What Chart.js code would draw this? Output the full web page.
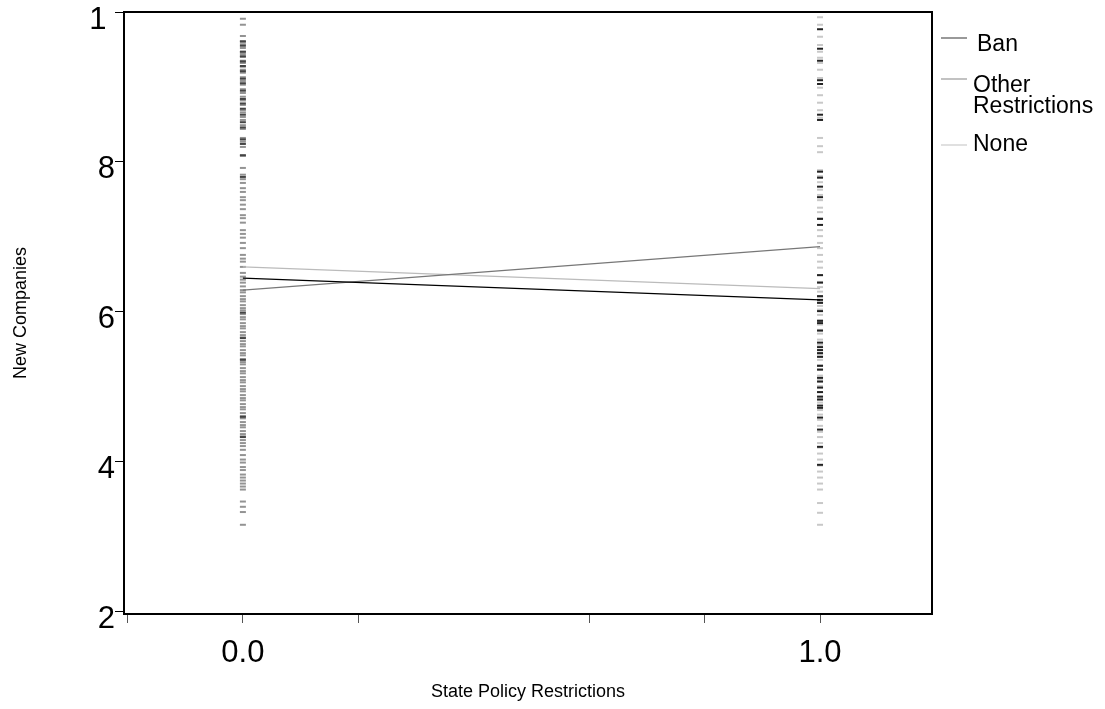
<!DOCTYPE html>
<html>
<head>
<meta charset="utf-8">
<script src="https://cdn.jsdelivr.net/npm/chart.js@4/dist/chart.umd.min.js"></script>
<style>
  html, body { margin: 0; padding: 0; background: #fff; }
  #wrap { width: 1105px; height: 709px; position: relative; }
</style>
</head>
<body>
<div id="wrap"><canvas id="chart" width="1105" height="709"></canvas></div>
<script>
// group names (legend) and the x positions of the policy groups
const groups = ['Ban', 'Other Restrictions', 'None'];
const xPositions = [0, 1];

// fitted lines: mean new companies at x = 0 and x = 1
const banLine = [6.45, 6.16];
const otherLine = [6.29, 6.87];
const noneLine = [6.60, 6.31];

const banAt0 = [9.61, 9.55, 9.47, 9.41, 9.34, 9.28, 9.21, 9.11, 9.05, 8.95, 8.84, 8.78, 8.71,
  8.63, 8.53, 8.46, 8.30, 8.24, 8.09, 7.80, 5.99, 5.65, 5.36, 4.60, 4.33];
const otherAt0 = [9.91, 9.83, 9.68, 9.60, 9.57, 9.52, 9.47, 9.44, 9.40, 9.35, 9.32, 9.27, 9.23,
  9.19, 9.13, 9.08, 9.03, 8.97, 8.92, 8.87, 8.82, 8.76, 8.69, 8.66, 8.60, 8.56, 8.49, 8.44,
  8.32, 8.27, 8.20, 8.08, 7.92, 7.83, 7.77, 7.72, 7.65, 7.60, 7.53, 7.49, 7.43, 7.37, 7.29,
  7.25, 7.19, 7.09, 7.04, 6.99, 6.92, 6.85, 6.76, 6.71, 6.67, 6.60, 6.52, 6.47, 6.43, 6.39,
  6.34, 6.29, 6.26, 6.21, 6.17, 6.14, 6.09, 6.05, 6.02, 5.97, 5.93, 5.90, 5.85, 5.81, 5.78,
  5.73, 5.69, 5.66, 5.61, 5.57, 5.54, 5.49, 5.45, 5.42, 5.37, 5.33, 5.30, 5.25, 5.21, 5.18,
  5.13, 5.09, 5.06, 5.01, 4.97, 4.94, 4.89, 4.85, 4.82, 4.77, 4.73, 4.70, 4.65, 4.61, 4.58,
  4.53, 4.49, 4.46, 4.41, 4.37, 4.34, 4.29, 4.25, 4.21, 4.16, 4.09, 4.03, 3.99, 3.93, 3.89,
  3.83, 3.79, 3.75, 3.71, 3.67, 3.63, 3.47, 3.40, 3.33, 3.16];
const banAt1 = [9.77, 9.51, 9.35, 9.09, 9.04, 8.63, 8.56, 7.87, 7.79, 7.67, 7.53, 7.24, 7.16,
  6.49, 6.39, 6.21, 6.16, 6.12, 6.01, 5.88, 5.85, 5.75, 5.59, 5.53, 5.49, 5.45, 5.40, 5.28,
  5.23, 5.12, 5.07, 4.99, 4.93, 4.87, 4.83, 4.75, 4.72, 4.59, 4.43, 4.20, 3.96];
const noneAt1 = [9.93, 9.83, 9.67, 9.56, 9.47, 9.39, 9.32, 9.23, 9.12, 8.99, 8.89, 8.79, 8.69,
  8.59, 8.32, 8.21, 8.13, 7.89, 7.81, 7.73, 7.63, 7.56, 7.49, 7.39, 7.33, 7.25, 7.09, 7.01,
  6.92, 6.85, 6.76, 6.67, 6.59, 6.49, 6.40, 6.33, 6.27, 6.20, 6.13, 6.08, 6.03, 5.96, 5.89,
  5.83, 5.76, 5.71, 5.63, 5.56, 5.49, 5.43, 5.36, 5.29, 5.23, 5.15, 5.09, 5.01, 4.93, 4.85,
  4.79, 4.69, 4.63, 4.56, 4.48, 4.40, 4.33, 4.25, 4.19, 4.11, 4.03, 3.95, 3.87, 3.79, 3.71,
  3.63, 3.45, 3.32, 3.16];

// axis ticks as printed in the picture (top label shows only "1")
const xTickValues = [-0.2, 0, 0.2, 0.6, 0.8, 1.0];
const xTickLabels = ['', '0.0', '', '', '', '1.0'];
const yTickValues = [2, 4, 6, 8, 10];
const yTickLabels = ['2', '4', '6', '8', '1 '];

const lineColors = ['#000000', '#777777', '#bbbbbb'];
const legendColors = ['#555555', '#999999', '#cccccc'];

const toPts = (x, ys) => ys.map(y => ({ x: x, y: y }));
const linePts = vals => xPositions.map((x, i) => ({ x: x, y: vals[i] }));

const markerStyle = color => ({
  showLine: false,
  pointStyle: 'line',
  pointRadius: 3,
  pointHoverRadius: 3,
  pointBorderWidth: 2,
  borderColor: color,
  backgroundColor: color,
  order: 5
});
const lineStyle = color => ({
  showLine: true,
  pointRadius: 0,
  borderWidth: 1.2,
  borderColor: color,
  backgroundColor: color,
  order: 1
});

// frame round the plot + the right-side legend
const framePlugin = {
  id: 'frame',
  afterDraw(chart) {
    const { ctx, chartArea: a } = chart;
    ctx.save();
    ctx.strokeStyle = '#000';
    ctx.lineWidth = 2;
    ctx.beginPath();
    ctx.moveTo(a.left, a.top);
    ctx.lineTo(a.right, a.top);
    ctx.lineTo(a.right, a.bottom);
    ctx.stroke();

    // legend
    const items = [
      { lines: ['Ban'], lineY: 38, textY: [45] },
      { lines: ['Other', 'Restrictions'], lineY: 79, textY: [86, 107] },
      { lines: ['None'], lineY: 145, textY: [145] }
    ];
    ctx.font = '23px "Liberation Sans", Arial, sans-serif';
    ctx.textBaseline = 'middle';
    ctx.textAlign = 'left';
    items.forEach((it, i) => {
      ctx.strokeStyle = legendColors[i];
      ctx.lineWidth = 1.2;
      ctx.beginPath();
      ctx.moveTo(a.right + 9, it.lineY);
      ctx.lineTo(a.right + 35, it.lineY);
      ctx.stroke();
      ctx.fillStyle = '#000';
      it.lines.forEach((t, j) => {
        ctx.fillText(t, a.right + (i === 0 ? 45 : 41), it.textY[j]);
      });
    });
    ctx.restore();
  }
};

new Chart(document.getElementById('chart'), {
  type: 'scatter',
  data: {
    datasets: [
      { label: groups[0], data: linePts(banLine), ...lineStyle(lineColors[0]) },
      { label: groups[1], data: linePts(otherLine), ...lineStyle(lineColors[1]) },
      { label: groups[2], data: linePts(noneLine), ...lineStyle(lineColors[2]) },
      { label: groups[1] + ' obs', data: toPts(0, otherAt0), ...markerStyle('#939393') },
      { label: groups[0] + ' obs', data: toPts(0, banAt0), ...markerStyle('#444444'), order: 4 },
      { label: groups[2] + ' obs', data: toPts(1, noneAt1), ...markerStyle('#c8c8c8') },
      { label: groups[0] + ' obs 1', data: toPts(1, banAt1), ...markerStyle('#222222'), order: 4 }
    ]
  },
  options: {
    responsive: false,
    animation: false,
    layout: { padding: { top: 12, right: 173, left: 0, bottom: 0 } },
    plugins: {
      legend: { display: false },
      tooltip: { enabled: false }
    },
    scales: {
      x: {
        type: 'linear',
        min: -0.206,
        max: 1.194,
        afterBuildTicks: scale => { scale.ticks = xTickValues.map(v => ({ value: v })); },
        afterFit: scale => { scale.height = 95; scale.paddingLeft = 0; scale.paddingRight = 0; },
        ticks: {
          padding: 12,
          color: '#000',
          font: { size: 31, family: '"Liberation Sans", Arial, sans-serif' },
          callback: (v, i) => xTickLabels[i]
        },
        grid: { drawOnChartArea: false, drawTicks: true, tickLength: 9, color: '#555', lineWidth: 1 },
        border: { display: true, color: '#000', width: 2 },
        title: {
          display: true,
          text: 'State Policy Restrictions',
          color: '#000',
          font: { size: 18, family: '"Liberation Sans", Arial, sans-serif' },
          padding: { top: 0, bottom: 6 }
        }
      },
      y: {
        type: 'linear',
        min: 1.97,
        max: 10,
        afterBuildTicks: scale => { scale.ticks = yTickValues.map(v => ({ value: v })); },
        afterFit: scale => { scale.width = 124; scale.paddingTop = 0; scale.paddingBottom = 0; },
        ticks: {
          padding: 0,
          labelOffset: 8,
          color: '#000',
          font: { size: 31, family: '"Liberation Sans", Arial, sans-serif' },
          callback: (v, i) => yTickLabels[i]
        },
        grid: { drawOnChartArea: false, drawTicks: true, tickLength: 9, color: '#000', lineWidth: 1 },
        border: { display: true, color: '#000', width: 2 },
        title: {
          display: true,
          text: 'New Companies',
          color: '#000',
          font: { size: 18, family: '"Liberation Sans", Arial, sans-serif' },
          padding: { top: 10, bottom: 0 }
        }
      }
    }
  },
  plugins: [framePlugin]
});
</script>
</body>
</html>
